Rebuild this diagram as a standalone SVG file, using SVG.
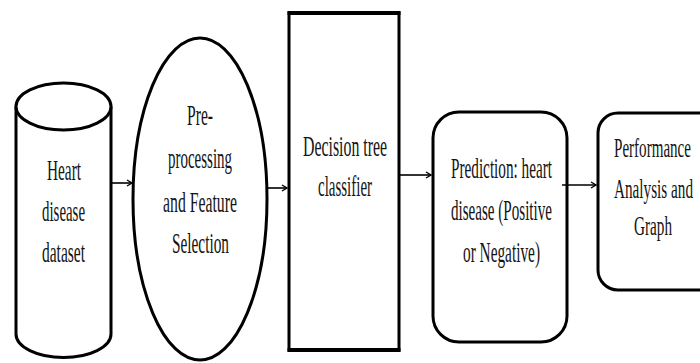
<svg xmlns="http://www.w3.org/2000/svg" width="700" height="363" viewBox="0 0 700 363">
<defs>
<style>
.shape{fill:#fff;stroke:#000;stroke-width:3}
.conn{stroke:#000;stroke-width:1.6;fill:none;marker-end:url(#ah)}
text{font-family:"Liberation Serif","Times New Roman",serif;font-size:30px;fill:#141414}
.sm{font-size:28px}
</style>
<marker id="ah" markerWidth="8" markerHeight="8" refX="6" refY="4" orient="auto" markerUnits="userSpaceOnUse">
<path d="M1,1 L6,4 L1,7" fill="none" stroke="#000" stroke-width="1.4"/>
</marker>
</defs>
<rect width="700" height="363" fill="#fff"/>
<g id="dataset">
<path class="shape" d="M16,106.5 L16,334 A47.5,23.5 0 0 0 111,334 L111,106.5"/>
<ellipse class="shape" cx="63.5" cy="106.5" rx="47.5" ry="23.5"/>
<text x="47" y="180" textLength="34" lengthAdjust="spacingAndGlyphs">Heart</text>
<text x="42" y="221" textLength="43" lengthAdjust="spacingAndGlyphs">disease</text>
<text x="42" y="262" textLength="43" lengthAdjust="spacingAndGlyphs">dataset</text>
</g>
<g id="preprocessing">
<ellipse class="shape" cx="200" cy="199" rx="67" ry="161"/>
<text x="187" y="125" textLength="26" lengthAdjust="spacingAndGlyphs">Pre-</text>
<text x="168" y="168" textLength="64" lengthAdjust="spacingAndGlyphs">processing</text>
<text x="163" y="212" textLength="74" lengthAdjust="spacingAndGlyphs">and Feature</text>
<text x="172" y="253" textLength="57" lengthAdjust="spacingAndGlyphs">Selection</text>
</g>
<g id="classifier">
<rect class="shape" x="289" y="13" width="110" height="337"/>
<line x1="287.5" y1="13" x2="400.5" y2="13" stroke="#000" stroke-width="4"/>
<line x1="287.5" y1="350" x2="400.5" y2="350" stroke="#000" stroke-width="4"/>
<text x="303" y="156" textLength="84" lengthAdjust="spacingAndGlyphs">Decision tree</text>
<text x="318" y="196" textLength="54" lengthAdjust="spacingAndGlyphs">classifier</text>
</g>
<g id="prediction">
<rect class="shape" x="433" y="112" width="134" height="230" rx="26" ry="26"/>
<text x="451" y="178" textLength="101" lengthAdjust="spacingAndGlyphs">Prediction: heart</text>
<text x="451" y="220" textLength="101" lengthAdjust="spacingAndGlyphs">disease (Positive</text>
<text x="463" y="262" textLength="77" lengthAdjust="spacingAndGlyphs">or Negative)</text>
</g>
<g id="performance">
<rect class="shape" x="598" y="113" width="120" height="177" rx="20" ry="20"/>
<text class="sm" x="614" y="157" textLength="77" lengthAdjust="spacingAndGlyphs">Performance</text>
<text class="sm" x="614" y="198" textLength="79" lengthAdjust="spacingAndGlyphs">Analysis and</text>
<text class="sm" x="634" y="235" textLength="38" lengthAdjust="spacingAndGlyphs">Graph</text>
</g>
<g id="connectors">
<line class="conn" x1="111" y1="183" x2="132" y2="183"/>
<line class="conn" x1="267" y1="188" x2="287" y2="188"/>
<line class="conn" x1="399" y1="175" x2="431" y2="175"/>
<line class="conn" x1="562" y1="185" x2="596" y2="185"/>
</g>
</svg>
